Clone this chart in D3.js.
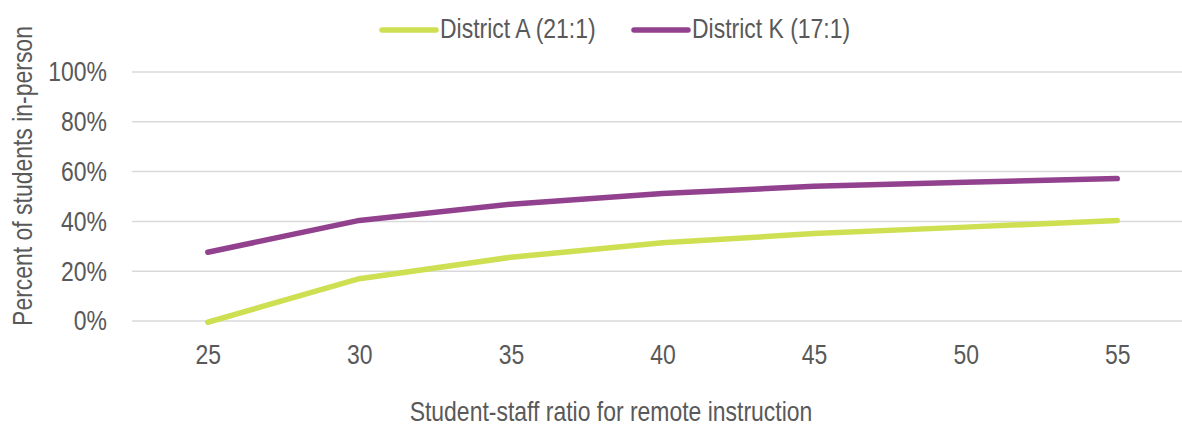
<!DOCTYPE html>
<html>
<head>
<meta charset="utf-8">
<script src="https://cdn.jsdelivr.net/npm/d3@7"></script>
<style>
  html, body { margin: 0; padding: 0; background: #fff; }
  svg { display: block; }
  text { font-family: "Liberation Sans Narrow", "Liberation Sans", Arial, sans-serif; fill: #595959; }
</style>
</head>
<body>
<svg id="chart" width="1182" height="428"></svg>
<script>
const categories = [25, 30, 35, 40, 45, 50, 55];
const seriesNames = ["District A (21:1)", "District K (17:1)"];
const districtA = [-0.5, 17, 25.6, 31.4, 35.1, 37.7, 40.4];
const districtK = [27.6, 40.4, 46.9, 51.2, 54.1, 55.7, 57.2];
const yTicks = [0, 20, 40, 60, 80, 100];
const colors = ["#cfdf52", "#92418f"];

const FS = 28;          // font size
const SX = 0.82;        // horizontal condensing (narrow face look)
const FF = '"Liberation Sans Narrow", "Liberation Sans", Arial, sans-serif';

const svg = d3.select("#chart");
const plot = { left: 132, right: 1193, top: 72, bottom: 321 };

const x = d3.scalePoint().domain(categories).range([plot.left, plot.right]).padding(0.5);
const y = d3.scaleLinear().domain([0, 100]).range([plot.bottom, plot.top]);

// gridlines
svg.append("g").selectAll("line").data(yTicks).join("line")
  .attr("x1", plot.left).attr("x2", 1182)
  .attr("y1", d => y(d)).attr("y2", d => y(d))
  .attr("stroke", "#d9d9d9").attr("stroke-width", 1.5);

// y axis labels
const yAxis = d3.axisLeft(y).tickValues(yTicks).tickFormat(d => d + "%").tickSize(0).tickPadding(0);
const gy = svg.append("g").attr("transform", `translate(107,0)`).call(yAxis);
gy.select(".domain").remove();
gy.selectAll("text").attr("font-size", FS).attr("fill", "#595959")
  .attr("transform", `scale(${SX},1)`)
  .style("font-family", FF);

// x axis labels
const xAxis = d3.axisBottom(x).tickSize(0).tickPadding(0);
const gx = svg.append("g").attr("transform", `translate(0,364)`).call(xAxis);
gx.select(".domain").remove();
gx.selectAll("text").attr("font-size", FS).attr("fill", "#595959")
  .attr("dy", 0).attr("y", 0)
  .attr("transform", `scale(${SX},1)`)
  .style("font-family", FF);

// lines
const series = [districtA, districtK];
const line = d3.line().x((d, i) => x(categories[i])).y(d => y(d));
svg.append("g").selectAll("path").data(series).join("path")
  .attr("d", d => line(d))
  .attr("fill", "none")
  .attr("stroke", (d, i) => colors[i])
  .attr("stroke-width", 5.5)
  .attr("stroke-linecap", "round")
  .attr("stroke-linejoin", "round");

// axis titles
svg.append("text")
  .attr("transform", `translate(611,421) scale(${SX},1)`)
  .attr("text-anchor", "middle")
  .attr("font-size", FS)
  .text("Student-staff ratio for remote instruction");

svg.append("text")
  .attr("transform", `translate(32,176) rotate(-90) scale(${SX},1)`)
  .attr("text-anchor", "middle")
  .attr("font-size", FS)
  .text("Percent of students in-person");

// legend
const legendX = [382, 634];
const lg = svg.append("g").selectAll("g").data(seriesNames).join("g")
  .attr("transform", (d, i) => `translate(${legendX[i]},30)`);
lg.append("line").attr("x1", 0).attr("x2", 54).attr("y1", 0).attr("y2", 0)
  .attr("stroke", (d, i) => colors[i]).attr("stroke-width", 5.5).attr("stroke-linecap", "round");
lg.append("text").attr("transform", `translate(58,8) scale(${SX},1)`)
  .attr("font-size", FS).text(d => d);
</script>
</body>
</html>
